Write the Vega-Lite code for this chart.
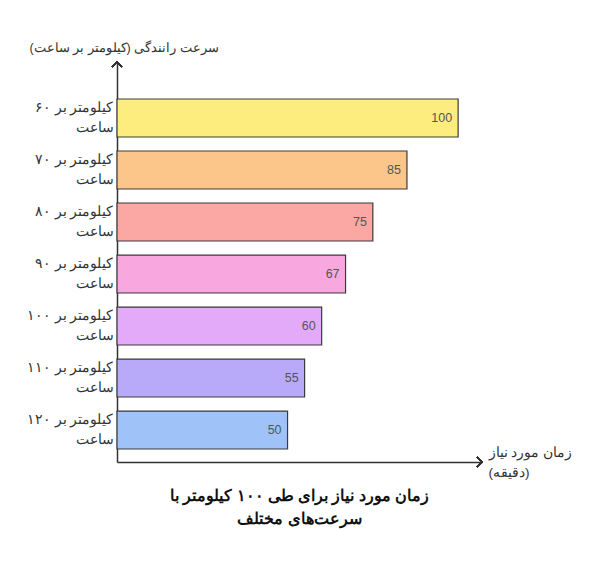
{
  "$schema": "https://vega.github.io/schema/vega-lite/v6.json",
  "autosize": "none",
  "width": 365,
  "height": 400,
  "padding": {"left": 117, "top": 62, "right": 118, "bottom": 105},
  "background": "white",
  "config": {
    "view": {"stroke": null},
    "font": "Liberation Sans",
    "text": {"font": "Liberation Sans"}
  },
  "title": {
    "text": ["زمان مورد نیاز برای طی ۱۰۰ کیلومتر با", "سرعت‌های مختلف"],
    "orient": "bottom",
    "anchor": "middle",
    "fontSize": 15.5,
    "fontWeight": "bold",
    "color": "#111111",
    "lineHeight": 23,
    "offset": 10
  },
  "data": {
    "values": [
      {"speed": "کیلومتر بر ۶۰|ساعت", "time": 100, "c": "a"},
      {"speed": "کیلومتر بر ۷۰|ساعت", "time": 85, "c": "b"},
      {"speed": "کیلومتر بر ۸۰|ساعت", "time": 75, "c": "c"},
      {"speed": "کیلومتر بر ۹۰|ساعت", "time": 67, "c": "d"},
      {"speed": "کیلومتر بر ۱۰۰|ساعت", "time": 60, "c": "e"},
      {"speed": "کیلومتر بر ۱۱۰|ساعت", "time": 55, "c": "f"},
      {"speed": "کیلومتر بر ۱۲۰|ساعت", "time": 50, "c": "g"}
    ]
  },
  "layer": [
    {
      "encoding": {
        "y": {
          "field": "speed",
          "type": "nominal",
          "sort": null,
          "scale": {"paddingInner": 0.27, "paddingOuter": 0.481, "align": 0.74},
          "axis": {
            "title": "سرعت رانندگی (کیلومتر بر ساعت)",
            "titleAngle": 0,
            "titleAlign": "left",
            "titleBaseline": "middle",
            "titleX": -88,
            "titleY": -15,
            "titleFontSize": 12.5,
            "titleFontWeight": "normal",
            "titleColor": "#333333",
            "labelExpr": "split(datum.value, '|')",
            "labelFontSize": 13.5,
            "labelColor": "#333333",
            "labelLineHeight": 20,
            "labelOffset": -10,
            "labelPadding": 4,
            "ticks": false,
            "domainColor": "#333333",
            "domainWidth": 1.5,
            "grid": false
          }
        },
        "x": {
          "field": "time",
          "type": "quantitative",
          "scale": {"domain": [0, 107], "nice": false},
          "axis": {
            "title": ["زمان مورد نیاز", "(دقیقه)"],
            "labels": false,
            "ticks": false,
            "grid": false,
            "domainColor": "#333333",
            "domainWidth": 1.5,
            "titleAlign": "left",
            "titleBaseline": "top",
            "titleX": 371,
            "titleY": -17,
            "titleFontSize": 13.5,
            "titleFontWeight": "normal",
            "titleColor": "#333333",
            "titleLineHeight": 20
          }
        }
      },
      "layer": [
        {
          "mark": {"type": "bar", "stroke": "#3a3a3a", "strokeWidth": 1.2},
          "encoding": {
            "color": {
              "field": "c",
              "type": "nominal",
              "legend": null,
              "scale": {
                "domain": ["a", "b", "c", "d", "e", "f", "g"],
                "range": ["#FDEC7E", "#FCC68A", "#FBA7A3", "#F8A8DF", "#E3AAF9", "#B9AAF9", "#9FC3F9"]
              }
            }
          }
        },
        {
          "mark": {"type": "text", "align": "right", "dx": -6, "fontSize": 12.5, "color": "#555555", "font": "Liberation Sans"},
          "encoding": {"text": {"field": "time", "type": "quantitative"}}
        }
      ]
    },
    {
      "mark": {"type": "point", "shape": "M-1,-1L0,0L-1,1", "filled": false, "stroke": "#333333", "strokeWidth": 1.5, "size": 100, "opacity": 1},
      "encoding": {
        "x": {"datum": 107, "type": "quantitative"},
        "y": {"datum": 0, "type": "quantitative", "scale": {"domain": [0, 1], "nice": false}, "axis": null}
      }
    },
    {
      "mark": {"type": "point", "shape": "M-1,1L0,0L1,1", "filled": false, "stroke": "#333333", "strokeWidth": 1.5, "size": 100, "opacity": 1},
      "encoding": {
        "x": {"datum": 0, "type": "quantitative"},
        "y": {"datum": 1, "type": "quantitative", "scale": {"domain": [0, 1], "nice": false}, "axis": null}
      }
    }
  ],
  "resolve": {"scale": {"y": "independent"}, "axis": {"y": "independent"}}
}
